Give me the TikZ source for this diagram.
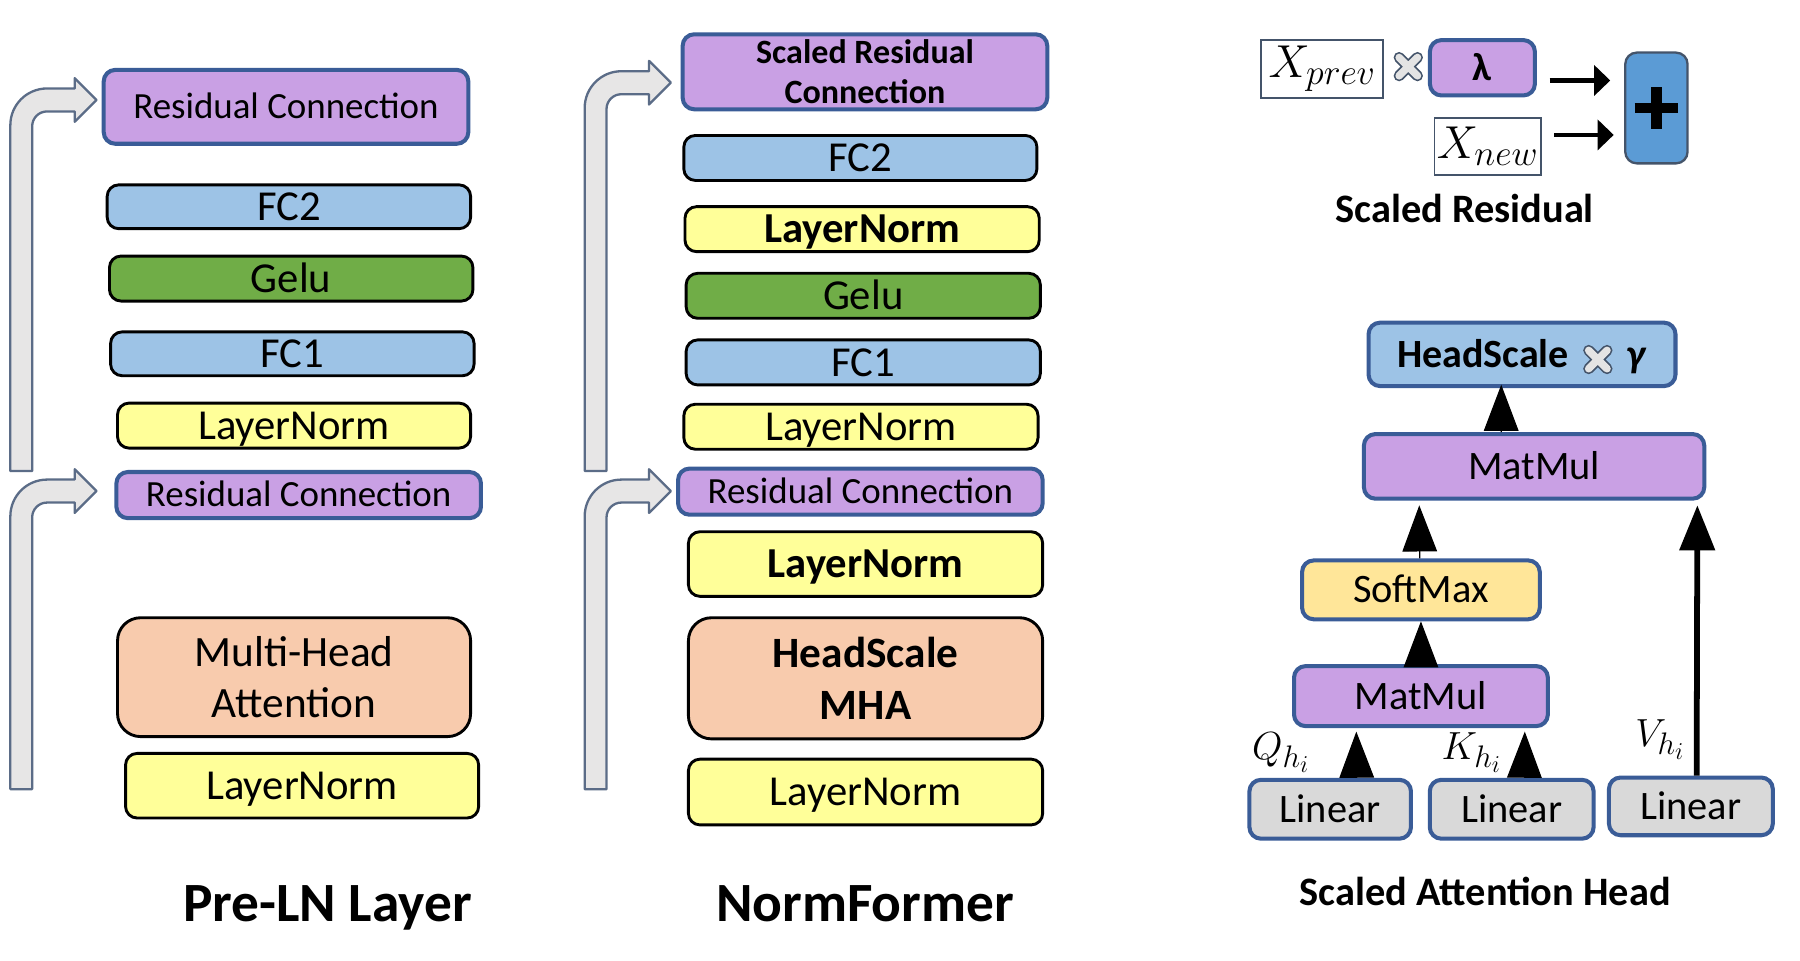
\RequirePackage{fix-cm}
\documentclass[tikz,border=0pt]{standalone}
\usepackage{fontspec}
\setmainfont{Carlito}
\usetikzlibrary{arrows.meta,calc}
\DeclareMathSizes{40}{40}{31}{24}
\DeclareMathSizes{34}{34}{27}{21}

\definecolor{rcpurple}{HTML}{C9A0E4}
\definecolor{rcedge}{HTML}{3A5C97}
\definecolor{fcblue}{HTML}{9DC3E6}
\definecolor{gelugreen}{HTML}{70AD47}
\definecolor{lnyellow}{HTML}{FFFF99}
\definecolor{mhapeach}{HTML}{F8CBAD}
\definecolor{smyellow}{HTML}{FFE699}
\definecolor{lingrey}{HTML}{D9D9D9}
\definecolor{plusblue}{HTML}{5B9BD5}
\definecolor{skipgrey}{HTML}{E7E6E6}
\definecolor{skipedge}{HTML}{5B6C87}
\definecolor{slate}{HTML}{44546A}

\newcommand{\skiparrow}[3]{% left x, bottom y, top of band
  \draw[skipline] (#1,#2) -- (#1,#3+32)
    .. controls (#1,#3+14.3) and (#1+14.3,#3) .. (#1+32,#3)
    -- (#1+56,#3) -- (#1+56,#3-9) -- (#1+75,#3+10) -- (#1+56,#3+29) -- (#1+56,#3+20)
    -- (#1+32,#3+20) .. controls (#1+24.8,#3+20) and (#1+19,#3+25.8) .. (#1+19,#3+33)
    -- (#1+19,#2) -- cycle;}
\newcommand{\crossmark}[1]{%
  \draw[slate, line width=9.5pt, line cap=round] (#1) ++(-8,-8) -- ++(16,16) (#1) ++(-8,8) -- ++(16,-16);
  \draw[lingrey!70!white, line width=6.5pt, line cap=round] (#1) ++(-8,-8) -- ++(16,16) (#1) ++(-8,8) -- ++(16,-16);}

\begin{document}
\begin{tikzpicture}[x=0.9955pt, y=-0.9955pt,
  box/.style={rounded corners=10pt, inner sep=0pt, line width=2.5pt, draw=black, font=\fontsize{37}{40}\selectfont, text height=23.8pt, text depth=0pt},
  res/.style={box, fill=rcpurple, draw=rcedge, line width=3.5pt, font=\fontsize{32}{36}\selectfont, text height=20.5pt},
  fc/.style={box, fill=fcblue},
  gelu/.style={box, fill=gelugreen},
  ln/.style={box, fill=lnyellow},
  lnb/.style={ln, font=\fontsize{37}{40}\selectfont\bfseries},
  mha/.style={rounded corners=20pt, inner sep=0pt, line width=2.5pt, draw=black, fill=mhapeach, align=center, font=\fontsize{37.5}{45}\selectfont},
  op/.style={box, draw=rcedge, line width=3.5pt, font=\fontsize{35}{40}\selectfont, text height=22.5pt},
  title/.style={inner sep=0pt, font=\fontsize{48}{48}\selectfont\bfseries, text height=31pt, text depth=0pt},
  xbox/.style={draw=slate, line width=1.5pt, fill=white, inner sep=0pt, font=\fontsize{40}{40}\selectfont},
  lbl/.style={inner sep=0pt, font=\fontsize{34}{34}\selectfont},
  plusbox/.style={rounded corners=10pt, fill=plusblue, draw=slate, line width=2pt,
    path picture={\draw[black, line width=9pt] ([xshift=-19pt]path picture bounding box.center) -- ([xshift=19pt]path picture bounding box.center)
      ([yshift=-18pt]path picture bounding box.center) -- ([yshift=18pt]path picture bounding box.center);}},
  skipline/.style={draw=skipedge, fill=skipgrey, line width=2pt, line join=round},
  fwd/.style={-{Triangle[length=14pt,width=26pt]}, line width=4pt},
  tri/.style={-{Triangle[length=40pt,width=30pt]}, line width=1pt},
  vline/.style={-{Triangle[length=39pt,width=30pt]}, line width=5pt}]
\path[use as bounding box, fill=white] (0,0) rectangle (1567,835.8);

\skiparrow{9}{410}{77}
\skiparrow{9}{687}{417.5}
\skiparrow{509}{410}{62}
\skiparrow{509}{687}{417.5}

\node[res, minimum width=316pt, minimum height=64pt] (resTopA) at (249,93) {Residual Connection};
\node[fc, minimum width=315pt, minimum height=38pt] (fcTwoA) at (251.5,180) {FC2};
\node[gelu, minimum width=315pt, minimum height=39pt] (geluA) at (253.5,242.5) {Gelu};
\node[fc, minimum width=315pt, minimum height=38pt] (fcOneA) at (254.5,308) {FC1};
\node[ln, minimum width=306pt, minimum height=39pt] (lnTopA) at (256,370.5) {LayerNorm};
\node[res, minimum width=316pt, minimum height=40pt] (resLowA) at (260,431) {Residual Connection};
\node[mha, minimum width=306pt, minimum height=103pt] (mhaA) at (256,589.5) {Multi-Head\\Attention};
\node[ln, minimum width=306pt, minimum height=56pt] (lnLowA) at (263,684) {LayerNorm};
\node[title] (titleA) at (285,787) {Pre-LN Layer};

\node[res, align=center, text height=, font=\fontsize{29.5}{35}\selectfont\bfseries, minimum width=316pt, minimum height=65pt] (resTopN) at (753,62.5) {Scaled Residual\\Connection};
\node[fc, minimum width=306pt, minimum height=39pt] (fcTwoN) at (749,137.5) {FC2};
\node[lnb, minimum width=307pt, minimum height=39pt] (lnTopN) at (750.5,199.5) {LayerNorm};
\node[gelu, minimum width=307pt, minimum height=39pt] (geluN) at (751.5,257.5) {Gelu};
\node[fc, minimum width=307pt, minimum height=39pt] (fcOneN) at (751.5,315.5) {FC1};
\node[ln, minimum width=307pt, minimum height=39pt] (lnMidN) at (749.5,371.5) {LayerNorm};
\node[res, minimum width=316pt, minimum height=40pt] (resLowN) at (749,428) {Residual Connection};
\node[lnb, minimum width=307pt, minimum height=56pt] (lnPostN) at (753.5,491) {LayerNorm};
\node[mha, font=\fontsize{37.5}{45}\selectfont\bfseries, minimum width=307pt, minimum height=105pt] (mhaN) at (753.5,590.5) {HeadScale\\MHA};
\node[ln, minimum width=307pt, minimum height=57pt] (lnLowN) at (753.5,689.5) {LayerNorm};
\node[title] (titleN) at (753,787) {NormFormer};

\node[xbox, minimum width=106pt, minimum height=50pt] (xPrev) at (1151,60) {$X_{prev}$};
\coordinate (mulA) at (1226,58);
\node[op, fill=rcpurple, font=\fontsize{34}{40}\selectfont\bfseries, minimum width=91pt, minimum height=48pt] (lam) at (1290.5,59) {λ};
\node[xbox, minimum width=92pt, minimum height=49pt] (xNew) at (1295,127.5) {$X_{new}$};
\node[plusbox, minimum width=54pt, minimum height=96pt] (plus) at (1442,94) {};
\node[title, font=\fontsize{35}{35}\selectfont\bfseries, text height=22.5pt] (titleS) at (1275,182) {Scaled Residual};
\crossmark{mulA}
\coordinate (inA) at ([yshift=-11pt]lam.east);
\coordinate (inB) at ([yshift=10pt]xNew.east);
\draw[fwd, shorten <=11pt, shorten >=12pt] (inA) -- (inA -| plus.west);
\draw[fwd, shorten <=11pt, shorten >=9pt] (inB) -- (inB -| plus.west);

\node[op, fill=fcblue, font=\fontsize{34.7}{40}\selectfont\bfseries, minimum width=266pt, minimum height=55pt] (hs) at (1325,308.5) {HeadScale\hspace{50pt}\textit{γ}};
\coordinate (mulB) at (1391,313);
\crossmark{mulB}
\node[op, fill=rcpurple, minimum width=295pt, minimum height=56pt] (mmTop) at (1335.5,406) {MatMul};
\node[op, fill=smyellow, minimum width=206pt, minimum height=51pt] (soft) at (1237,513.5) {SoftMax};
\node[op, fill=rcpurple, minimum width=220pt, minimum height=52pt] (mmLow) at (1237,606) {MatMul};
\node[op, fill=lingrey, minimum width=140pt, minimum height=51pt] (linQ) at (1158,704.5) {Linear};
\node[op, fill=lingrey, minimum width=142pt, minimum height=51pt] (linK) at (1316,704.5) {Linear};
\node[op, fill=lingrey, minimum width=142pt, minimum height=50pt] (linV) at (1472,702) {Linear};
\node[lbl] (qLab) at (1115,655) {$Q_{h_i}$};
\node[lbl] (kLab) at (1281,655) {$K_{h_i}$};
\node[lbl] (vLab) at (1445,644) {$V_{h_i}$};
\node[title, font=\fontsize{35}{35}\selectfont\bfseries, text height=22.5pt] (titleH) at (1293,777) {Scaled Attention Head};

\draw[tri] ([xshift=-28.5pt]mmTop.north) -- ([xshift=-18pt,yshift=3pt]hs.south);
\draw[tri] ([xshift=-1pt]soft.north) -- ([xshift=-99.5pt,yshift=-4pt]mmTop.south);
\draw[tri] (mmLow.north) -- (soft.south);
\draw[tri] ([xshift=23pt]linQ.north) -- ([xshift=-56pt,yshift=-3pt]mmLow.south);
\draw[tri] ([xshift=11pt]linK.north) -- ([xshift=90pt,yshift=-3pt]mmLow.south);
\draw[vline] ([xshift=5pt]linV.north) -- ([xshift=141.5pt,yshift=-4pt]mmTop.south);
\end{tikzpicture}
\end{document}
